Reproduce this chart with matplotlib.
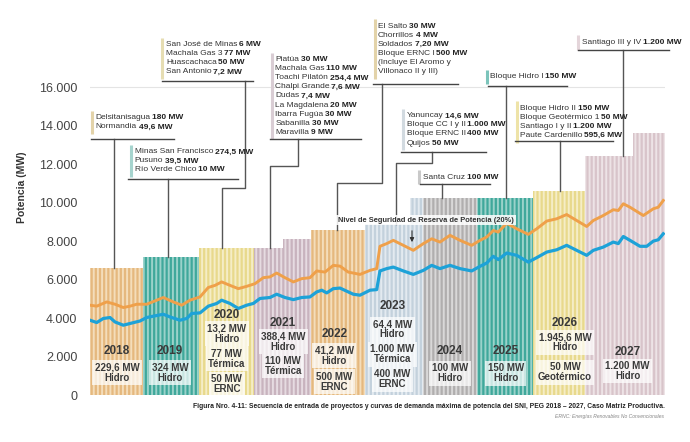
import matplotlib.pyplot as plt
import numpy as np

plt.rcParams['font.family'] = ['Liberation Sans Narrow', 'Liberation Sans', 'DejaVu Sans']
plt.rcParams['hatch.linewidth'] = 1.4

# installed capacity, step segments (decimal year, MW)
seg_start = [2018.00, 2018.92, 2019.90, 2020.85, 2021.35, 2021.84, 2022.78,
             2023.57, 2023.79, 2024.73, 2025.71, 2026.61, 2027.45]
seg_end = seg_start[1:] + [2028.0]
seg_height = [6600, 7150, 7630, 7630, 8120, 8600, 8900,
              10230, 10230, 10230, 10600, 12400, 13600]
seg_year = [2018, 2019, 2020, 2021, 2021, 2022, 2023,
            2023, 2024, 2025, 2026, 2027, 2027]

# maximum demand (blue)
dem_x = 2018 + np.array([
    0.000, 0.117, 0.231, 0.348, 0.435, 0.579, 0.696, 0.870, 0.986, 1.101,
    1.275, 1.391, 1.565, 1.682, 1.769, 1.913, 2.057, 2.203, 2.290, 2.435,
    2.579, 2.725, 2.840, 2.957, 3.130, 3.247, 3.391, 3.536, 3.682, 3.826,
    3.943, 4.030, 4.117, 4.231, 4.348, 4.492, 4.579, 4.696, 4.870, 4.986,
    5.043, 5.160, 5.275, 5.449, 5.623, 5.797, 5.943, 6.087, 6.261, 6.435,
    6.638, 6.783, 6.899, 7.014, 7.101, 7.247, 7.421, 7.623, 7.769, 7.943,
    8.117, 8.290, 8.464, 8.638, 8.753, 8.927, 9.101, 9.188, 9.275, 9.391,
    9.565, 9.682, 9.797, 9.883, 9.970])
dem_mw = [
    3890, 3770, 3980, 4030, 3800, 3630, 3720, 3850, 4030, 4100,
    4200, 4060, 3890, 3980, 4240, 4270, 4620, 4760, 4930, 4760,
    4500, 4670, 4760, 5020, 5070, 5240, 5070, 4960, 5070, 5100,
    5360, 5450, 5310, 5530, 5560, 5360, 5240, 5190, 5450, 5480,
    6450, 6570, 6650, 6450, 6270, 6480, 6740, 6570, 6740, 6570,
    6450, 6690, 6860, 7210, 7040, 7380, 7260, 6910, 7140, 7430,
    7550, 7780, 7520, 7260, 7520, 7690, 7950, 7870, 8240, 8040,
    7730, 7730, 8000, 8070, 8380]

# reserve security level 20% (orange)
res_x = 2018 + np.array([
    0.000, 0.117, 0.290, 0.435, 0.579, 0.696, 0.812, 0.986, 1.160, 1.275,
    1.449, 1.595, 1.739, 1.913, 2.057, 2.174, 2.290, 2.435, 2.579, 2.725,
    2.870, 3.014, 3.130, 3.247, 3.391, 3.536, 3.682, 3.826, 3.943, 4.087,
    4.231, 4.348, 4.492, 4.579, 4.696, 4.870, 4.986, 5.043, 5.160, 5.275,
    5.449, 5.623, 5.797, 5.943, 6.087, 6.261, 6.435, 6.638, 6.783, 6.899,
    7.014, 7.101, 7.247, 7.421, 7.623, 7.769, 7.943, 8.117, 8.290, 8.464,
    8.638, 8.753, 8.927, 9.101, 9.188, 9.275, 9.391, 9.623, 9.797, 9.883,
    9.970])
res_mw = [
    4670, 4620, 4840, 4720, 4550, 4620, 4720, 4720, 4930, 5070,
    4840, 4670, 4930, 5100, 5590, 5700, 5880, 5700, 5530, 5650,
    5790, 6100, 6140, 6340, 6100, 5880, 6050, 6100, 6450, 6390,
    6740, 6700, 6390, 6340, 6270, 6480, 6570, 7730, 7870, 8040,
    7780, 7520, 7870, 8120, 7950, 8300, 8040, 7780, 8040, 8210,
    8550, 8470, 8930, 8640, 8350, 8640, 9040, 9160, 9380, 9070,
    8760, 9070, 9330, 9630, 9590, 9940, 9760, 9330, 9680, 9760,
    10110]

yticks = [0, 2000, 4000, 6000, 8000, 10000, 12000, 14000, 16000]

year_colors = {
    2018: ('#E5B87E', '#F4DDBA'), 2019: ('#3FA89B', '#9BD2CA'),
    2020: ('#E8D98C', '#F5EDC6'), 2021: ('#C8B3BE', '#E6DBE1'),
    2022: ('#E5B87E', '#F4DDBA'), 2023: ('#C3D1DC', '#E3EAF0'),
    2024: ('#B0AEAE', '#D9D8D8'), 2025: ('#3FA89B', '#9BD2CA'),
    2026: ('#E8D98C', '#F5EDC6'), 2027: ('#D8C4CA', '#EDE3E6'),
}

# project boxes at the bottom of every year
year_boxes = {
    2018: ['229,6 MW\nHidro'],
    2019: ['324 MW\nHidro'],
    2020: ['13,2 MW\nHidro', '77 MW\nTérmica', '50 MW\nERNC'],
    2021: ['388,4 MW\nHidro', '110 MW\nTérmica'],
    2022: ['41,2 MW\nHidro', '500 MW\nERNC'],
    2023: ['64,4 MW\nHidro', '1.000 MW\nTérmica', '400 MW\nERNC'],
    2024: ['100 MW\nHidro'],
    2025: ['150 MW\nHidro'],
    2026: ['1.945,6 MW\nHidro', '50 MW\nGeotérmico'],
    2027: ['1.200 MW\nHidro'],
}
# layout of those boxes: x centre, year label y, box centres y
box_layout = {
    2018: (2018.47, 2300, [1160]),
    2019: (2019.39, 2300, [1160]),
    2020: (2020.38, 4160, [3180, 1880, 580]),
    2021: (2021.36, 3730, [2770, 1510]),
    2022: (2022.25, 3170, [2050, 700]),
    2023: (2023.26, 4640, [3420, 2120, 820]),
    2024: (2024.26, 2290, [1140]),
    2025: (2025.23, 2290, [1140]),
    2026: (2026.26, 3730, [2740, 1180]),
    2027: (2027.35, 2260, [1250]),
}

callouts = [
    dict(lines=[('Delsitanisagua', '180 MW'), ('Normandia', '49,6 MW')],
         x=2018.10, y=14400, ul=(2018.02, 2019.46, 13290),
         path=[(2018.42, 13290)], color='#E3D3A9'),
    dict(lines=[('Minas San Francisco', '274,5 MW'), ('Pusuno', '39,5 MW'),
                ('Río Verde Chico', '10 MW')],
         x=2018.78, y=12630, ul=(2018.66, 2020.57, 11240),
         path=[(2019.36, 11240)], color='#A6D4CE'),
    dict(lines=[('San José de Minas', '6 MW'), ('Machala Gas 3', '77 MW'),
                ('Huascachaca', '50 MW'), ('San Antonio', '7,2 MW')],
         x=2019.32, y=18190, ul=(2019.25, 2020.83, 16330),
         path=[(2020.70, 16330), (2020.70, 10760), (2020.30, 10760)],
         color='#E6DDB2'),
    dict(lines=[('Piatúa', '30 MW'), ('Machala Gas', '110 MW'),
                ('Toachi Pilatón', '254,4 MW'), ('Chalpi Grande', '7,6 MW'),
                ('Dudas', '7,4 MW'), ('La Magdalena', '20 MW'),
                ('Ibarra Fugúa', '30 MW'), ('Sabanilla', '30 MW'),
                ('Maravilla', '9 MW')],
         x=2021.22, y=17410, ul=(2021.13, 2022.71, 13320),
         path=[(2021.62, 13320), (2021.62, 11900), (2021.13, 11900)],
         color='#D9CDD4'),
    dict(lines=[('El Salto', '30 MW'), ('Chorrillos', '4 MW'),
                ('Soldados', '7,20 MW'), ('Bloque ERNC I', '500 MW'),
                ('(Incluye El Aromo y', ''), ('Villonaco II y III)', '')],
         x=2023.01, y=19140, ul=(2022.92, 2024.40, 16160),
         path=[(2023.08, 16160), (2023.08, 11020), (2022.30, 11020)],
         color='#E3D3A9'),
    dict(lines=[('Yanuncay', '14,6 MW'), ('Bloque CC I y II', '1.000 MW'),
                ('Bloque ERNC II', '400 MW'), ('Quijos', '50 MW')],
         x=2023.51, y=14500, ul=(2023.41, 2024.89, 12645),
         path=[(2023.94, 12645), (2023.94, 12040), (2023.33, 12040)],
         color='#D2DAE0'),
    dict(lines=[('Santa Cruz', '100 MW')],
         x=2023.79, y=11330, ul=(2023.74, 2024.96, 10967),
         path=[(2024.12, 10967)], color='#C9C9C9'),
    dict(lines=[('Bloque Hidro I', '150 MW')],
         x=2024.96, y=16540, ul=(2024.92, 2026.29, 16058),
         path=[(2025.23, 16058)], color='#7CC4BB'),
    dict(lines=[('Bloque Hidro II', '150 MW'), ('Bloque Geotérmico 1', '50 MW'),
                ('Santiago I y II', '1.200 MW'), ('Paute Cardenillo', '595,6 MW')],
         x=2025.48, y=14900, ul=(2025.39, 2027.10, 13185),
         path=[(2026.17, 13185)], color='#EEE3A8'),
    dict(lines=[('Santiago III y IV', '1.200 MW')],
         x=2026.55, y=18307, ul=(2026.49, 2028.07, 17928),
         path=[(2027.27, 17928)], color='#E4D5DA'),
]


def top_at(x):
    for s, e, h in zip(seg_start, seg_end, seg_height):
        if s <= x < e:
            return h
    return 0


fig = plt.figure(figsize=(6.9, 4.42), dpi=100)
ax = fig.add_axes([90 / 690, 46.9 / 442, 575 / 690, 395.1 / 442])

# capacity bars with vertical stripes
for s, e, h, yr in zip(seg_start, seg_end, seg_height, seg_year):
    main, light = year_colors[yr]
    ax.bar(s, h, width=e - s, align='edge', color=main, edgecolor=light,
           linewidth=0, hatch='||||', zorder=1)

ax.axhline(16000, color='#e4e4e4', lw=0.8, zorder=0)

ax.plot(res_x, res_mw, color='#EFA04A', lw=2.1, zorder=3, solid_joinstyle='round')
ax.plot(dem_x, dem_mw, color='#1DA2D8', lw=2.3, zorder=3, solid_joinstyle='round')

# year labels and project boxes
txt_col = '#3a3a3a'
for yr, boxes in year_boxes.items():
    xc, ylab, ys = box_layout[yr]
    ax.text(xc, ylab, str(yr), ha='center', va='center', fontsize=8.5,
            fontweight='bold', color=txt_col, zorder=5)
    for label, yb in zip(boxes, ys):
        ax.text(xc, yb, label, ha='center', va='center', fontsize=7,
                fontweight='bold', color=txt_col, linespacing=1.0, zorder=5,
                bbox=dict(boxstyle='square,pad=0.25', fc='white', ec='none', alpha=0.72))

# callouts with leader lines
step = 468
fs = 6.0
for c in callouts:
    n = len(c['lines'])
    for i, (reg, bold) in enumerate(c['lines']):
        yy = c['y'] - i * step
        t = ax.text(c['x'], yy, reg, ha='left', va='center', fontsize=fs,
                    color='#333333', zorder=6, clip_on=False)
        if bold:
            ax.annotate(bold, xy=(1, 0.5), xycoords=t, xytext=(1.2, 0),
                        textcoords='offset points', ha='left', va='center',
                        fontsize=fs, fontweight='bold', color='#222222', zorder=6)
    ax.plot([c['x'] - 0.06] * 2, [c['y'] + 0.8 * step, c['y'] - (n - 1) * step - 0.8 * step],
            color=c['color'], lw=2.2, solid_capstyle='butt', clip_on=False, zorder=6)
    x0, x1, yu = c['ul']
    ax.plot([x0, x1], [yu, yu], color='#444444', lw=1.0, clip_on=False, zorder=6)
    px = [p[0] for p in c['path']]
    py = [p[1] for p in c['path']]
    px.append(px[-1])
    py.append(top_at(px[-1]))
    ax.plot(px, py, color='#555555', lw=1.0, zorder=2, clip_on=False)

ax.text(2022.31, 9096, 'Nivel de Seguridad de Reserva de Potencia (20%)', ha='left',
        va='center', fontsize=5.4, fontweight='bold', color='#333333', zorder=6,
        bbox=dict(boxstyle='square,pad=0.25', fc='white', ec='none', alpha=0.85))
ax.annotate('', xy=(2023.60, 7800), xytext=(2023.60, 8680),
            arrowprops=dict(arrowstyle='-|>', color='#333333', lw=0.8,
                            mutation_scale=6), zorder=6)

ax.set_xlim(2018, 2028)
ax.set_ylim(0, 20525)
ax.set_xticks([])
ax.set_yticks(yticks)
ax.set_yticklabels([f'{v:,}'.replace(',', '.') for v in yticks],
                   fontsize=9, color='#444444')
ax.tick_params(axis='y', length=0, pad=9)
for sp in ax.spines.values():
    sp.set_visible(False)
ax.patch.set_alpha(0)

fig.text(22 / 690, 1 - 187 / 442, 'Potencia (MW)', rotation=90, ha='center',
         va='center', fontsize=7.5, fontweight='bold', color='#333333')
fig.text(665 / 690, 1 - 406 / 442,
         'Figura Nro. 4-11: Secuencia de entrada de proyectos y curvas de demanda máxima '
         'de potencia del SNI, PEG 2018 – 2027, Caso Matriz Productiva.',
         ha='right', va='center', fontsize=4.9, fontweight='bold', color='#222222')
fig.text(664 / 690, 1 - 416.5 / 442, 'ERNC: Energías Renovables No Convencionales',
         ha='right', va='center', fontsize=3.6, style='italic', color='#888888')

fig.savefig('out.png', dpi=100)
